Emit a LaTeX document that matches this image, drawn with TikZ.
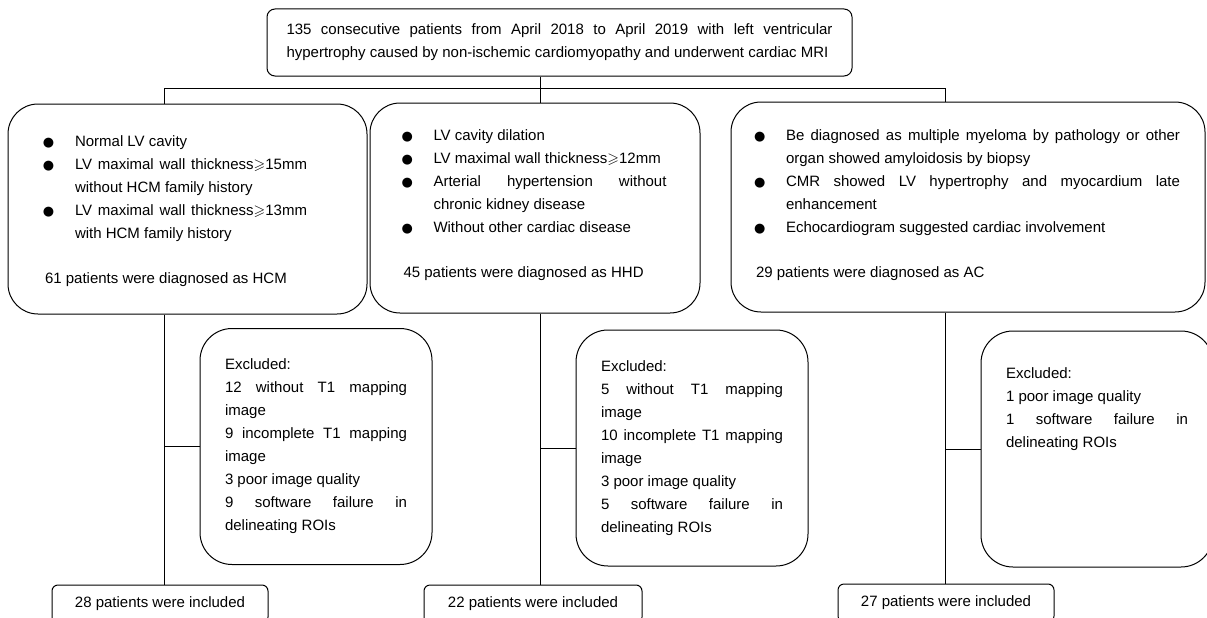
\documentclass[tikz,border=0pt]{standalone}
\usepackage{amssymb}
\usepackage{fontspec}
\setmainfont{Liberation Sans}
\newfontfamily\bulletfont{DejaVu Sans}
\usetikzlibrary{positioning}
\setlength{\parindent}{0pt}

% bullet line with hanging indent
\newcommand{\critem}[1]{\par\noindent\hangindent=30pt\hangafter=1%
  \makebox[30pt][l]{\hspace{-2pt}\bulletfont\fontsize{13}{13}\selectfont ●}#1}
% blank room under the text, lifts it in its box
\newcommand{\lift}[1]{\par\kern#1}

\begin{document}
\begin{tikzpicture}[
    x=1pt, y=-1pt,
    every node/.style={font=\fontsize{15}{23}\selectfont},
    topbox/.style={draw, line width=1pt, rounded corners=8pt, text width=546pt,
                   inner xsep=19.5pt, minimum height=67pt, align=justify},
    crit/.style={draw, line width=1pt, rounded corners=30pt, minimum height=210pt,
                 align=justify},
    excl/.style={draw, line width=1pt, rounded corners=32pt, text width=182pt,
                 inner xsep=25pt, minimum height=236pt, align=justify},
    incl/.style={draw, line width=1pt, rounded corners=6pt, minimum width=216pt,
                 minimum height=38pt},
    conn/.style={line width=1pt}
]
\useasboundingbox (0,0) rectangle (1207,618);
\clip (0,0) rectangle (1207,618);

% ---- Screening ----
\node[topbox] (screen) at (559.5,42.5) {135 consecutive patients from April 2018 to April 2019 with left ventricular\linebreak hypertrophy caused by non-ischemic cardiomyopathy and underwent cardiac MRI};

% ---- Diagnostic criteria ----
\node[crit, text width=285pt, inner xsep=37pt] (hcm) at (187.5,209) {\rightskip=23pt
  \critem{Normal LV cavity}
  \critem{LV maximal wall thickness$\geqslant$15mm\linebreak without HCM family history}
  \critem{LV maximal wall thickness$\geqslant$13mm\linebreak with HCM family history}
  \par\vspace{22pt}
  61 patients were diagnosed as HCM\lift{8pt}};
\node[crit, text width=263pt, inner xsep=33.5pt] (hhd) at (535,208) {%
  \critem{LV cavity dilation}
  \critem{LV maximal wall thickness$\geqslant$12mm}
  \critem{Arterial hypertension without\linebreak chronic kidney disease}
  \critem{Without other cardiac disease}
  \par\vspace{22pt}
  45 patients were diagnosed as HHD\lift{18pt}};
\node[crit, text width=424pt, inner xsep=25pt] (ac) at (968,207) {%
  \critem{Be diagnosed as multiple myeloma by pathology or other\linebreak organ showed amyloidosis by biopsy}
  \critem{CMR showed LV hypertrophy and myocardium late\linebreak enhancement}
  \critem{Echocardiogram suggested cardiac involvement}
  \par\vspace{22pt}
  29 patients were diagnosed as AC\lift{15pt}};

% ---- Exclusions ----
\node[excl] (exhcm) at (316,446.5) {Excluded:\par
  12 without T1 mapping\linebreak image\par
  9 incomplete T1 mapping\linebreak image\par
  3 poor image quality\par
  9 software failure in\linebreak delineating ROIs};
\node[excl] (exhhd) at (692,448) {Excluded:\par
  5 without T1 mapping\linebreak image\par
  10 incomplete T1 mapping\linebreak image\par
  3 poor image quality\par
  5 software failure in\linebreak delineating ROIs};
\node[excl] (exac) at (1097,449) {Excluded:\par
  1 poor image quality\par
  1 software failure in\linebreak delineating ROIs\lift{80pt}};

% ---- Included ----
\node[incl] (inhcm) at (160,604) {28 patients were included};
\node[incl, minimum width=218pt] (inhhd) at (533,604) {22 patients were included};
\node[incl] (inac) at (946,603) {27 patients were included};

% ======== Split ========
\coordinate (jl) at (164,88);
\coordinate (jm) at (540,88);
\coordinate (jr) at (945,88);
\draw[conn] (screen.south -| jm) -- (jm);
\draw[conn] (jl) -- (jr);
\draw[conn] (jl) -- (jl |- hcm.north);
\draw[conn] (jm) -- (jm |- hhd.north);
\draw[conn] (jr) -- (jr |- ac.north);

% ======== Down to included ========
\draw[conn] (jl |- hcm.south) -- (jl |- inhcm.north);
\draw[conn] (jm |- hhd.south) -- (jm |- inhhd.north);
\draw[conn] (jr |- ac.south)  -- (jr |- inac.north);

% ======== Branches to exclusions ========
\draw[conn] (jl |- exhcm.west) -- (exhcm.west);
\draw[conn] (jm |- exhhd.west) -- (exhhd.west);
\draw[conn] (jr |- exac.west)  -- (exac.west);

\end{tikzpicture}
\end{document}
